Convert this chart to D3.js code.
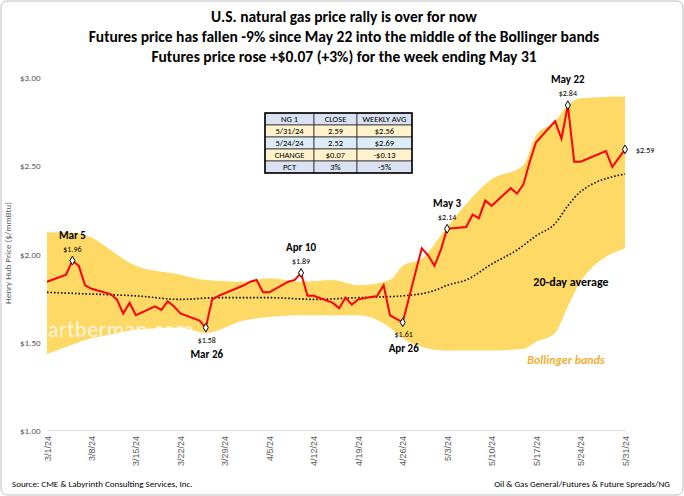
<!DOCTYPE html>
<html><head><meta charset="utf-8">
<script src="https://cdn.jsdelivr.net/npm/d3@7"></script>
<style>
body{margin:0;background:#fff;font-family:Calibri,Carlito,"Liberation Sans",Arial,sans-serif}
</style></head><body>
<div id="chart"></div>
<script>
let dates = ["3/1","3/4","3/5","3/6","3/7","3/8","3/11","3/12","3/13","3/14","3/15","3/18","3/19","3/20","3/21","3/22","3/25","3/26","3/27","3/28",
  "4/1","4/2","4/3","4/4","4/5","4/8","4/9","4/10","4/11","4/12","4/15","4/16","4/17","4/18","4/19","4/22","4/23","4/24","4/25","4/26","4/29","4/30",
  "5/1","5/2","5/3","5/6","5/7","5/8","5/9","5/10","5/13","5/14","5/15","5/16","5/17","5/20","5/21","5/22","5/23","5/24","5/28","5/29","5/30","5/31"];
let price = [1.84,1.88,1.96,1.93,1.82,1.80,1.77,1.74,1.66,1.72,1.65,1.70,1.68,1.73,1.70,1.66,1.62,1.58,1.74,1.76,
  1.82,1.84,1.85,1.78,1.78,1.84,1.85,1.89,1.76,1.76,1.72,1.69,1.75,1.71,1.74,1.76,1.82,1.65,1.63,1.61,2.03,1.99,
  1.93,2.02,2.14,2.15,2.22,2.20,2.30,2.27,2.37,2.34,2.39,2.52,2.63,2.75,2.65,2.84,2.52,2.52,2.58,2.49,2.54,2.59];

let bandDates = ["3/1","3/4","3/8","3/11","3/15","3/22","3/26","4/1","4/5","4/10","4/15","4/19","4/24","4/26","4/29","5/3","5/10","5/15","5/17","5/20","5/22","5/24","5/31"];
let upper = [2.12,2.12,2.09,2.02,1.93,1.88,1.85,1.84,1.86,1.84,1.85,1.82,1.85,1.93,1.97,2.15,2.42,2.50,2.67,2.75,2.84,2.88,2.89];
let lower = [1.43,1.47,1.52,1.54,1.57,1.58,1.55,1.62,1.64,1.65,1.65,1.65,1.58,1.52,1.47,1.45,1.45,1.46,1.50,1.55,1.70,1.84,2.03];

let maDates = ["3/1","3/8","3/15","3/22","3/28","4/5","4/12","4/19","4/26","5/1","5/3","5/6","5/10","5/14","5/17","5/20","5/22","5/24","5/31"];
let ma = [1.78,1.77,1.76,1.74,1.75,1.75,1.74,1.75,1.76,1.79,1.82,1.85,1.94,2.02,2.10,2.17,2.27,2.35,2.45];

let tickDates = ["3/1","3/8","3/15","3/22","3/29","4/5","4/12","4/19","4/26","5/3","5/10","5/17","5/24","5/31"];
let yTicks = [1.0,1.5,2.0,2.5,3.0];

let notes = [
  {d:"3/5", v:1.96, name:"Mar 5", pos:"above"},
  {d:"3/26", v:1.58, name:"Mar 26", pos:"below"},
  {d:"4/10", v:1.89, name:"Apr 10", pos:"above"},
  {d:"4/26", v:1.61, name:"Apr 26", pos:"below"},
  {d:"5/3", v:2.14, name:"May 3", pos:"above"},
  {d:"5/22", v:2.84, name:"May 22", pos:"above"},
  {d:"5/31", v:2.59, name:"", pos:"right"}
];

let table = [["NG 1","CLOSE","WEEKLY AVG"],["5/31/24","2.59","$2.56"],["5/24/24","2.52","$2.69"],["CHANGE","$0.07","-$0.13"],["PCT","3%","-5%"]];
let rowFill = ["#D9E1F2","#FFF2CC","#DDEBF7","#FFF2CC","#D9E1F2"];

let W = 684, H = 496;
let parse = s => new Date(2024, +s.split("/")[0]-1, +s.split("/")[1]);

let svg = d3.select("#chart").append("svg").attr("width", W).attr("height", H);
svg.append("rect").attr("x",1).attr("y",1).attr("width",W-2).attr("height",H-2)
  .attr("rx",6).attr("fill","#fff").attr("stroke","#bfbfbf");

let x = d3.scaleTime().domain([parse("3/1"), parse("5/31")]).range([47, 625]);
let y = d3.scaleLinear().domain([1, 3]).range([430, 77]);

// bands
let band = bandDates.map((d,i) => ({d:parse(d), u:upper[i], l:lower[i]}));
svg.append("path").datum(band)
  .attr("fill","#FFD966")
  .attr("d", d3.area().x(p=>x(p.d)).y0(p=>y(p.l)).y1(p=>y(p.u)).curve(d3.curveMonotoneX));

// y axis labels
svg.append("g").selectAll("text").data(yTicks).join("text")
  .attr("x",20).attr("y",v=>y(v)+4).attr("font-size",9).attr("fill","#595959")
  .text(v=>"$"+v.toFixed(2));
svg.append("text").attr("transform","translate(11,253) rotate(-90)")
  .attr("text-anchor","middle").attr("font-size",9).attr("fill","#595959")
  .text("Henry Hub Price ($/mmBtu)");

// x axis
let xAxis = d3.axisBottom(x).tickValues(tickDates.map(parse))
  .tickFormat(d => (d.getMonth()+1)+"/"+d.getDate()+"/24").tickSize(0);
let gx = svg.append("g").attr("transform","translate(0,430)").call(xAxis);
gx.select(".domain").attr("stroke","#d9d9d9");
gx.selectAll("text").attr("font-size",9).attr("fill","#595959")
  .attr("transform","rotate(-90)").attr("text-anchor","end").attr("dx","-6").attr("dy","3").attr("x",0).attr("y",0);
gx.selectAll("text").attr("font-family","inherit");

// watermark
svg.append("text").attr("x",48).attr("y",337).attr("font-size",22).attr("fill","#ffffff")
  .attr("opacity",0.75).attr("letter-spacing",0.5).text("artberman.com");

// moving average
svg.append("path").datum(maDates.map((d,i)=>({d:parse(d), v:ma[i]})))
  .attr("fill","none").attr("stroke","#000").attr("stroke-width",1.6).attr("stroke-dasharray","1.5,2")
  .attr("d", d3.line().x(p=>x(p.d)).y(p=>y(p.v)).curve(d3.curveMonotoneX));

// price
svg.append("path").datum(dates.map((d,i)=>({d:parse(d), v:price[i]})))
  .attr("fill","none").attr("stroke","#FF0000").attr("stroke-width",2)
  .attr("d", d3.line().x(p=>x(p.d)).y(p=>y(p.v)));

// annotations
notes.forEach(n => {
  let px = x(parse(n.d)), py = y(n.v);
  svg.append("path").attr("transform",`translate(${px},${py})`)
    .attr("d", d3.symbol(d3.symbolDiamond, 22)).attr("fill","#fff").attr("stroke","#000").attr("stroke-width",1);
  let val = "$" + n.v.toFixed(2);
  if (n.pos === "above") {
    svg.append("text").attr("x",px).attr("y",py-22).attr("text-anchor","middle").attr("font-size",11).attr("font-weight","bold").text(n.name);
    svg.append("text").attr("x",px).attr("y",py-9).attr("text-anchor","middle").attr("font-size",8).text(val);
  } else if (n.pos === "below") {
    svg.append("text").attr("x",px+1).attr("y",py+15).attr("text-anchor","middle").attr("font-size",8).text(val);
    svg.append("text").attr("x",px+1).attr("y",py+30).attr("text-anchor","middle").attr("font-size",11).attr("font-weight","bold").text(n.name);
  } else {
    svg.append("text").attr("x",px+11).attr("y",py+4).attr("font-size",8).text(val);
  }
});

svg.append("text").attr("x",571).attr("y",286).attr("text-anchor","middle").attr("font-size",12).attr("font-weight","bold").text("20-day average");
svg.append("text").attr("x",566).attr("y",364).attr("text-anchor","middle").attr("font-size",12).attr("font-weight","bold")
  .attr("font-style","italic").attr("fill","#F0B030").text("Bollinger bands");

// table
let colX = [265,314,357,412], rowH = 12, ty = 113;
table.forEach((row,r) => {
  row.forEach((c,ci) => {
    svg.append("rect").attr("x",colX[ci]).attr("y",ty+r*rowH).attr("width",colX[ci+1]-colX[ci]).attr("height",rowH)
      .attr("fill",rowFill[r]).attr("stroke","#333").attr("stroke-width",0.8);
    svg.append("text").attr("x",(colX[ci]+colX[ci+1])/2).attr("y",ty+r*rowH+9).attr("text-anchor","middle")
      .attr("font-size",8.5).text(c);
  });
});
svg.append("rect").attr("x",colX[0]).attr("y",ty).attr("width",colX[3]-colX[0]).attr("height",rowH*5)
  .attr("fill","none").attr("stroke","#000").attr("stroke-width",1.5);

// titles
let titles = ["U.S. natural gas price rally is over for now",
  "Futures price has fallen -9% since May 22 into the middle of the Bollinger bands",
  "Futures price rose +$0.07 (+3%) for the week ending May 31"];
titles.forEach((t,i) => svg.append("text").attr("x",W/2+2).attr("y",22+i*20).attr("text-anchor","middle")
  .attr("font-size",15.5).attr("font-weight","bold").text(t));

svg.append("text").attr("x",12).attr("y",487).attr("font-size",9).text("Source: CME & Labyrinth Consulting Services, Inc.");
svg.append("text").attr("x",670).attr("y",487).attr("text-anchor","end").attr("font-size",9).text("Oil & Gas General/Futures & Future Spreads/NG");
</script></body></html>
